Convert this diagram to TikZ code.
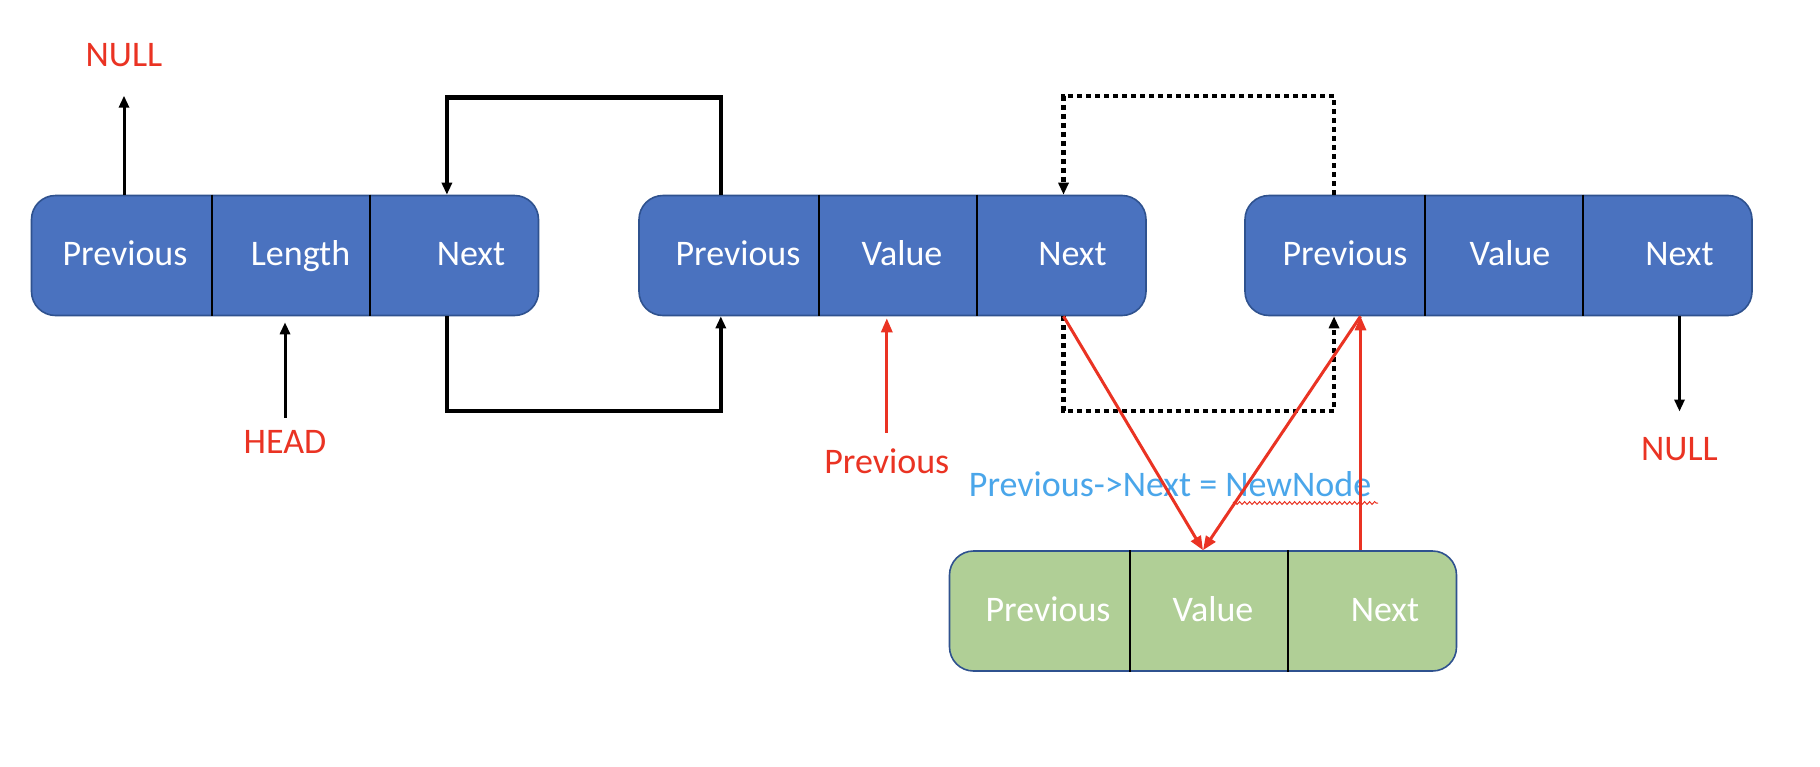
\documentclass[tikz,border=0pt]{standalone}
\usepackage{fontspec}
\setmainfont{Carlito}
\usetikzlibrary{arrows.meta,calc,decorations.pathmorphing}
\definecolor{boxblue}{HTML}{4A72BF}
\definecolor{boxedge}{HTML}{2F528F}
\definecolor{boxgreen}{HTML}{B0CF96}
\definecolor{labred}{HTML}{EA3323}
\definecolor{labblue}{HTML}{4AA6EA}
\begin{document}
\begin{tikzpicture}[x=0.5pt,y=-0.5pt,
  rec/.style={rounded corners=12pt, draw=boxedge, line width=0.8pt, minimum width=253.5pt, minimum height=60pt, inner sep=0pt},
  cell/.style={text=white, font=\fontsize{18}{20}\selectfont, anchor=base, inner sep=0pt},
  lab/.style={font=\fontsize{18}{20}\selectfont, anchor=base, inner sep=0pt},
  divider/.style={black, line width=1pt},
  blackarrow/.style={black, line width=1.5pt, -{Triangle[length=6pt,width=5pt]}},
  thickc/.style={black, line width=2.3pt, -{Triangle[length=6pt,width=5pt]}},
  dotc/.style={thickc, dash pattern=on 2.5pt off 2pt},
  redarrow/.style={labred, line width=1.5pt, -{Triangle[length=7pt,width=5.5pt]}}]
\useasboundingbox (0,0) rectangle (1820,766);
\fill[white] (0,0) rectangle (1820,766);

% record boxes
\node[rec, fill=boxblue] (b1) at (285,255.5) {};
\node[rec, fill=boxblue] (b2) at (892.5,255.5) {};
\node[rec, fill=boxblue] (b3) at (1498.5,255.5) {};
\node[rec, fill=boxgreen] (g) at (1203,611) {};

\foreach \b in {b1,b2,b3,g}{
  \draw[divider] ($(\b.north west)+(181,0)$) -- ($(\b.south west)+(181,0)$);
  \draw[divider] ($(\b.north west)+(339,0)$) -- ($(\b.south west)+(339,0)$);
}

% cell texts
\node[cell] (b1p) at ($(b1.center)+(-160,9.5)$) {Previous};
\node[cell] (b1l) at ($(b1.center)+(15.5,9.5)$) {Length};
\node[cell] (b1n) at ($(b1.center)+(186,9.5)$) {Next};
\node[cell] (b2p) at ($(b2.center)+(-154.5,9.5)$) {Previous};
\node[cell] (b2v) at ($(b2.center)+(9.5,9.5)$) {Value};
\node[cell] (b2n) at ($(b2.center)+(180,9.5)$) {Next};
\node[cell] (b3p) at ($(b3.center)+(-153.5,9.5)$) {Previous};
\node[cell] (b3v) at ($(b3.center)+(11.5,9.5)$) {Value};
\node[cell] (b3n) at ($(b3.center)+(181,9.5)$) {Next};
\node[cell] (gp) at ($(g.center)+(-155,10.5)$) {Previous};
\node[cell] (gv) at ($(g.center)+(10,10.5)$) {Value};
\node[cell] (gn) at ($(g.center)+(182,10.5)$) {Next};

% labels
\node[lab, text=labred] (nulltop) at (124,66) {NULL};
\node[lab, text=labred] (head) at (285,453) {HEAD};
\node[lab, text=labred] (lprev) at (886.8,473) {Previous};
\node[lab, text=labred] (nullr) at (1679.5,460) {NULL};
\node[lab, text=labblue] (blab) at (1170,496) {Previous->Next = NewNode};
\draw[decorate, decoration={snake, segment length=2.5pt, amplitude=0.7pt}, labred, line width=0.5pt] (1233,503) -- (1378,503);

% helper coordinates
\coordinate (xA) at (446.9,0);
\coordinate (xB) at (720.8,0);
\coordinate (xC) at (1063.5,0);
\coordinate (xD) at (1334,0);
\coordinate (xE) at (1360.5,0);
\coordinate (yT) at (0,97.5);
\coordinate (yTd) at (0,96);
\coordinate (yB) at (0,411);

% plain arrows
\draw[blackarrow, shorten >=14.5pt] (b1.north -| nulltop) -- (nulltop.south);
\draw[blackarrow, shorten <=6pt, shorten >=3pt] (head.north) -- (b1.south -| head.north);
\draw[blackarrow, shorten >=12.5pt] (b3.south -| nullr) -- (nullr.north);
\draw[redarrow, shorten <=7.5pt, shorten >=1pt] (lprev.north) -- (b2.south -| lprev.north);

% solid connectors
\draw[thickc] (b2.north -| xB) -- (xB |- yT) -- (xA |- yT) -- (b1.north -| xA);
\draw[thickc] (b1.south -| xA) -- (xA |- yB) -- (xB |- yB) -- (b2.south -| xB);

% dotted connectors
\draw[dotc] (b3.north -| xD) -- (xD |- yTd) -- (xC |- yTd) -- (b2.north -| xC);
\draw[dotc] (b2.south -| xC) -- (xC |- yB) -- (xD |- yB) -- (b3.south -| xD);

% red connectors
\draw[redarrow] (b2.south -| xC) -- (g.north);
\draw[redarrow] (b3.south -| xE) -- (g.north);
\draw[redarrow] (g.north -| xE) -- (b3.south -| xE);
\end{tikzpicture}
\end{document}
